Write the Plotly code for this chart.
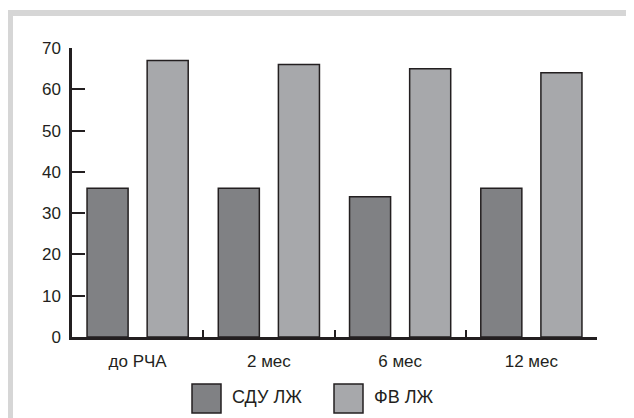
import plotly.graph_objects as go

categories = ["до РЧА", "2 мес", "6 мес", "12 мес"]
sdu_lzh = [36, 36, 34, 36]
fv_lzh = [67, 66, 65, 64]
series_names = ["СДУ ЛЖ", "ФВ ЛЖ"]
y_ticks = [0, 10, 20, 30, 40, 50, 60, 70]

# page is rendered with an 8px body margin, so the figure is offset by 8px
OFF = 8
PAGE_W, PAGE_H = 634, 418
W, H = PAGE_W - OFF, PAGE_H - OFF
# plot area in page pixels
PL, PR, PT, PB = 72, 597, 48, 337
pw, ph = PR - PL, PB - PT

def px(x):
    return (x - PL) / pw

def py(y):
    return (PB - y) / ph

dark = "#808184"
light = "#a7a8ab"
ink = "#231f20"
font = "Arial, Liberation Sans, sans-serif"

fig = go.Figure()
fig.add_trace(go.Bar(x=categories, y=sdu_lzh, name=series_names[0],
                     marker=dict(color=dark, line=dict(color=ink, width=1.5)),
                     showlegend=False))
fig.add_trace(go.Bar(x=categories, y=fv_lzh, name=series_names[1],
                     marker=dict(color=light, line=dict(color=ink, width=1.5)),
                     showlegend=False))

shapes = [
    # light gray frame (top and left edges)
    dict(type="line", xref="paper", yref="paper", x0=px(7), x1=px(640), y0=py(13), y1=py(13),
         line=dict(color="#d6d6d6", width=6)),
    dict(type="line", xref="paper", yref="paper", x0=px(10), x1=px(10), y0=py(10), y1=py(425),
         line=dict(color="#d6d6d6", width=6)),
]
annotations = []
legend_boxes = [(192, 221, 230), (334, 363, 372)]
for (x0, x1, tx), name, col in zip(legend_boxes, series_names, [dark, light]):
    shapes.append(dict(type="rect", xref="paper", yref="paper",
                       x0=px(x0), x1=px(x1), y0=py(413), y1=py(384),
                       fillcolor=col, line=dict(color=ink, width=1.5)))
    annotations.append(dict(xref="paper", yref="paper", x=px(tx), y=py(397),
                            text=name, showarrow=False, xanchor="left", yanchor="middle",
                            font=dict(family=font, size=18, color=ink)))

fig.update_layout(
    width=W, height=H,
    margin=dict(l=PL - OFF, r=PAGE_W - PR, t=PT - OFF, b=PAGE_H - PB, autoexpand=False),
    paper_bgcolor="white", plot_bgcolor="white",
    barmode="group", bargap=0.084, bargroupgap=0.317,
    font=dict(family=font, size=17, color=ink),
    shapes=shapes, annotations=annotations,
    xaxis=dict(showline=True, linecolor=ink, linewidth=2.5, ticks="inside",
               tickson="boundaries", ticklen=7, tickwidth=1.5, tickcolor=ink,
               showgrid=False, zeroline=False, ticklabelstandoff=7,
               tickfont=dict(family=font, size=17, color=ink)),
    yaxis=dict(range=[0, 70], tickvals=y_ticks, showline=True, linecolor=ink, linewidth=2.5,
               ticks="inside", ticklen=13, tickwidth=1.5, tickcolor=ink,
               showgrid=False, zeroline=False, ticklabelstandoff=5,
               tickfont=dict(family=font, size=17, color=ink)),
)

fig.write_html("out.html")
